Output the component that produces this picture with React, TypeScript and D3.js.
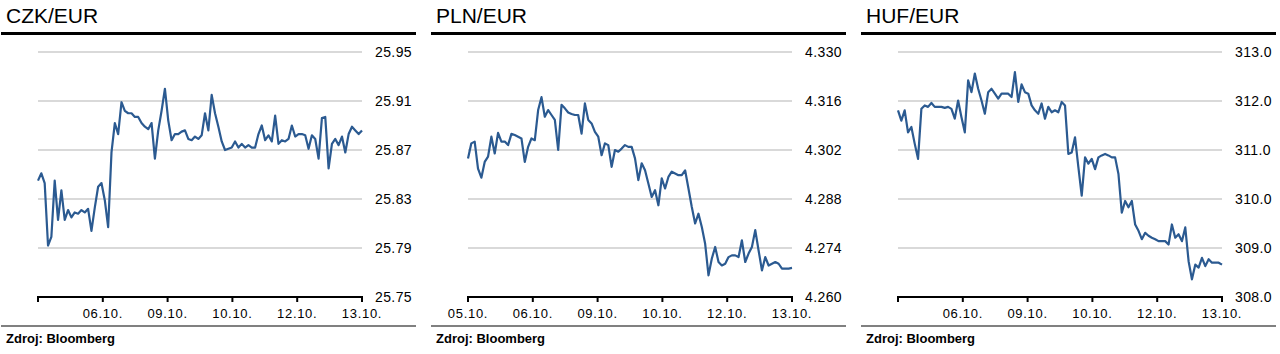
import React from "react"
import * as d3 from "d3"

const czkRates = [
  25.845, 25.851, 25.843, 25.792, 25.799, 25.845, 25.813, 25.837, 25.813, 25.821,
  25.815, 25.819, 25.818, 25.821, 25.819, 25.822, 25.804, 25.823, 25.84, 25.843,
  25.829, 25.807, 25.868, 25.892, 25.883, 25.909, 25.902, 25.9, 25.9, 25.897,
  25.897, 25.892, 25.889, 25.887, 25.892, 25.863, 25.886, 25.902, 25.92, 25.894,
  25.878, 25.883, 25.883, 25.885, 25.886, 25.879, 25.878, 25.881, 25.879, 25.882,
  25.9, 25.886, 25.915, 25.9, 25.889, 25.877, 25.87, 25.871, 25.872, 25.877,
  25.872, 25.875, 25.872, 25.874, 25.872, 25.872, 25.883, 25.89, 25.878, 25.882,
  25.877, 25.898, 25.875, 25.878, 25.877, 25.879, 25.89, 25.881, 25.883, 25.883,
  25.882, 25.871, 25.882, 25.879, 25.863, 25.896, 25.897, 25.855, 25.875, 25.879,
  25.874, 25.881, 25.868, 25.883, 25.889, 25.886, 25.883, 25.886,
]

const plnRates = [
  4.2996, 4.3039, 4.3044, 4.2967, 4.2941, 4.2986, 4.3001, 4.3058, 4.301, 4.3069,
  4.3044, 4.3044, 4.3034, 4.3066, 4.3063, 4.3058, 4.3053, 4.2986, 4.3029, 4.3053,
  4.3048, 4.3134, 4.3171, 4.3115, 4.3134, 4.312, 4.3106, 4.302, 4.3149, 4.3139,
  4.3127, 4.3123, 4.312, 4.312, 4.3067, 4.3153, 4.3106, 4.3096, 4.3072, 4.3058,
  4.3005, 4.3039, 4.3034, 4.2972, 4.302, 4.3015, 4.3024, 4.3034, 4.3029, 4.3029,
  4.2996, 4.2934, 4.2982, 4.2962, 4.2924, 4.2886, 4.2905, 4.2862, 4.2939, 4.291,
  4.2943, 4.2958, 4.2953, 4.2948, 4.2948, 4.2962, 4.291, 4.2857, 4.281, 4.2838,
  4.28, 4.2752, 4.2662, 4.271, 4.2743, 4.27, 4.269, 4.2695, 4.2714, 4.2719,
  4.2719, 4.2714, 4.2762, 4.27, 4.2724, 4.2743, 4.2791, 4.2733, 4.2676, 4.2714,
  4.269, 4.2695, 4.27, 4.2695, 4.2681, 4.2681, 4.2681, 4.2683,
]

const hufRates = [
  311.81, 311.6, 311.81, 311.36, 311.47, 311.13, 310.82, 311.84, 311.91, 311.88,
  311.96, 311.88, 311.88, 311.88, 311.86, 311.88, 311.84, 311.64, 312.01, 311.67,
  311.36, 312.42, 312.18, 312.56, 312.25, 312.01, 311.74, 312.18, 312.25, 312.15,
  312.05, 312.15, 312.15, 312.15, 312.08, 312.59, 311.98, 312.34, 312.18, 312.15,
  311.91, 311.81, 311.74, 311.95, 311.64, 311.88, 311.77, 311.81, 311.77, 311.98,
  311.91, 310.92, 310.95, 311.26, 310.65, 310.07, 310.85, 310.72, 310.82, 310.61,
  310.85, 310.89, 310.92, 310.89, 310.85, 310.85, 310.51, 309.72, 309.96, 309.83,
  309.96, 309.48, 309.35, 309.18, 309.31, 309.25, 309.21, 309.18, 309.14, 309.14,
  309.14, 309.07, 309.48, 309.21, 309.28, 309.14, 309.42, 308.73, 308.36, 308.66,
  308.6, 308.8, 308.63, 308.77, 308.7, 308.7, 308.7, 308.66,
]

const dayLabelsCzk = ["", "06.10.", "09.10.", "10.10.", "12.10.", "13.10."]
const dayLabelsPln = ["05.10.", "06.10.", "09.10.", "10.10.", "12.10.", "13.10."]
const dayLabelsHuf = ["", "06.10.", "09.10.", "10.10.", "12.10.", "13.10."]

const czkTicks = [25.75, 25.79, 25.83, 25.87, 25.91, 25.95]
const plnTicks = [4.26, 4.274, 4.288, 4.302, 4.316, 4.33]
const hufTicks = [308, 309, 310, 311, 312, 313]

const panels = [
  { title: "CZK/EUR", rates: czkRates, ticks: czkTicks, days: dayLabelsCzk, fmt: ".2f" },
  { title: "PLN/EUR", rates: plnRates, ticks: plnTicks, days: dayLabelsPln, fmt: ".3f" },
  { title: "HUF/EUR", rates: hufRates, ticks: hufTicks, days: dayLabelsHuf, fmt: ".1f" },
]

const font = "Arial, 'Liberation Sans', sans-serif"
const lineColor = "#2b5a91"

function Panel({ p, dx }) {
  const x = d3.scaleLinear().domain([0, 5]).range([38, 362])
  const y = d3
    .scaleLinear()
    .domain([p.ticks[0], p.ticks[p.ticks.length - 1]])
    .range([297, 52])
  const n = p.rates.length
  const line = d3
    .line()
    .x((d, i) => x((i / (n - 1)) * 5))
    .y(d => y(d))
  const f = d3.format(p.fmt)

  return (
    <g transform={`translate(${dx},0)`} fontFamily={font}>
      <text x={6} y={23} fontSize={21} fill="#000">
        {p.title}
      </text>
      <line x1={1} x2={416} y1={33.5} y2={33.5} stroke="#000" strokeWidth={3} />
      {p.ticks.slice(1).map(t => (
        <line key={t} x1={38} x2={362} y1={y(t)} y2={y(t)} stroke="#d9d9d9" strokeWidth={2} />
      ))}
      <path d={line(p.rates)} fill="none" stroke={lineColor} strokeWidth={2.2} strokeLinejoin="round" />
      <line x1={37} x2={363} y1={y(p.ticks[0])} y2={y(p.ticks[0])} stroke="#000" strokeWidth={2} />
      {p.days.map((d, i) => (
        <g key={i}>
          <line x1={x(i)} x2={x(i)} y1={297} y2={302} stroke="#000" strokeWidth={2} />
          <text x={x(i)} y={318} fontSize={13} textAnchor="middle" letterSpacing={0.7} fill="#000">
            {d}
          </text>
        </g>
      ))}
      {p.ticks.map(t => (
        <text key={t} x={375} y={y(t)} dy="0.36em" fontSize={14} letterSpacing={0.4} fill="#000">
          {f(t)}
        </text>
      ))}
      <line x1={1} x2={416} y1={326} y2={326} stroke="#808080" strokeWidth={2} />
      <text x={6} y={343} fontSize={13} fontWeight="bold" fill="#000">
        Zdroj: Bloomberg
      </text>
    </g>
  )
}

export default function App() {
  return (
    <svg
      width={1280}
      height={354}
      style={{ position: "absolute", left: 0, top: 0, background: "#fff" }}
    >
      {panels.map((p, i) => (
        <Panel key={p.title} p={p} dx={i * 430} />
      ))}
    </svg>
  )
}
